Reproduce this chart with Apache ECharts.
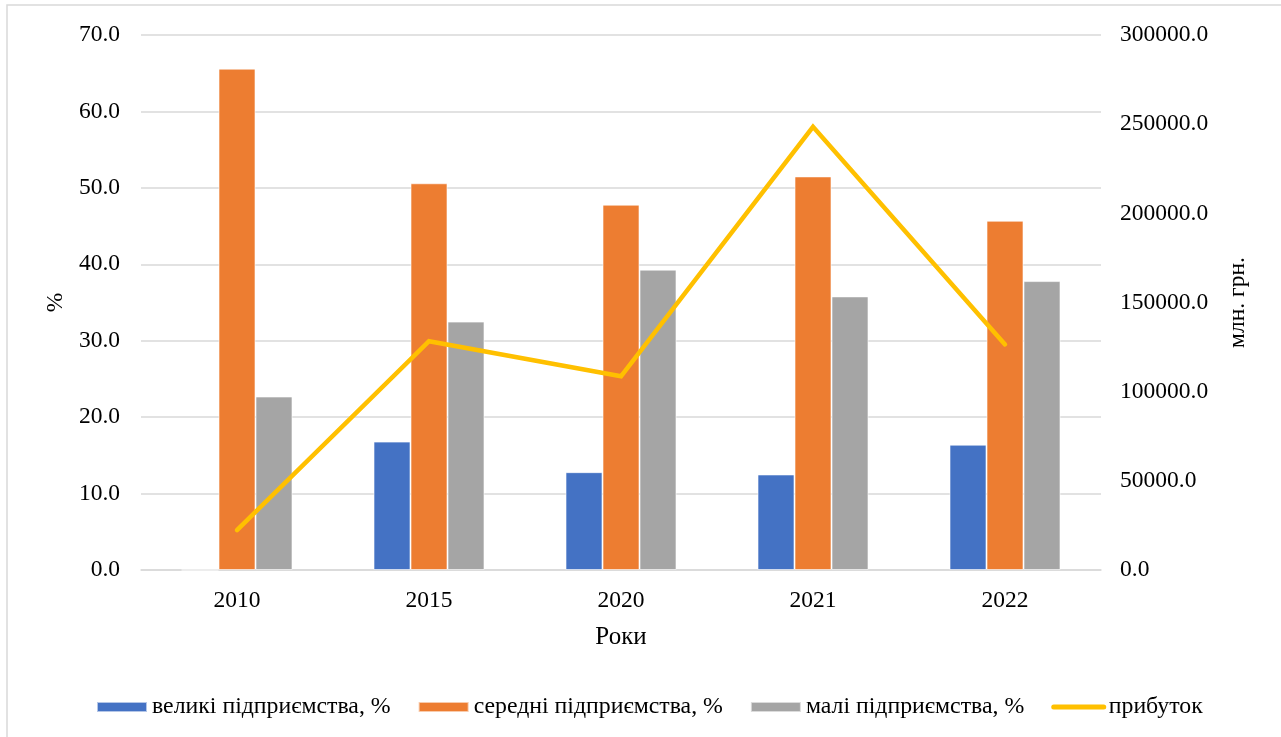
<!DOCTYPE html>
<html>
<head>
<meta charset="utf-8">
<script src="https://cdn.jsdelivr.net/npm/echarts@6/dist/echarts.min.js"></script>
<style>
html,body{margin:0;padding:0;background:#fff;}
#chart{width:1281px;height:737px;}
</style>
</head>
<body>
<div id="chart"></div>
<script>
const categories = ['2010', '2015', '2020', '2021', '2022'];
const large = [0, 16.8, 12.8, 12.5, 16.4];
const medium = [65.6, 50.6, 47.8, 51.5, 45.7];
const small = [22.7, 32.5, 39.3, 35.8, 37.8];
const profit = [22400, 128300, 108600, 248500, 126500];
const seriesNames = ['великі підприємства, %', 'середні підприємства, %', 'малі підприємства, %', 'прибуток'];

const FONT = 'Liberation Serif';
const FS = 23.5;
const chart = echarts.init(document.getElementById('chart'));
const barStyle = (c) => ({ color: c, borderColor: 'rgba(255,255,255,0.6)', borderWidth: 1 });

chart.setOption({
  backgroundColor: '#fff',
  animation: false,
  textStyle: { fontFamily: FONT, color: '#000' },
  graphic: [{
    type: 'rect',
    shape: { x: 7, y: 5, width: 1300, height: 800 },
    style: { fill: 'none', stroke: '#D9D9D9', lineWidth: 1.5 },
    silent: true
  }],
  grid: { left: 141, right: 180, top: 35, bottom: 167 },
  legend: {
    left: 91, top: 690,
    itemWidth: 50, itemHeight: 10, itemGap: 27,
    textStyle: { fontFamily: FONT, fontSize: 23.8, color: '#000' },
    data: [
      { name: seriesNames[0], icon: 'rect' },
      { name: seriesNames[1], icon: 'rect' },
      { name: seriesNames[2], icon: 'rect' },
      { name: seriesNames[3], itemStyle: { opacity: 0 }, lineStyle: { width: 5, cap: 'round', color: '#FFC000' } }
    ]
  },
  xAxis: {
    type: 'category',
    data: categories,
    name: 'Роки',
    nameLocation: 'middle',
    nameGap: 55,
    nameTextStyle: { fontFamily: FONT, fontSize: 25, color: '#000' },
    axisLine: { lineStyle: { color: '#D9D9D9', width: 1.5 } },
    axisTick: { show: false },
    axisLabel: { fontFamily: FONT, fontSize: FS, color: '#000', margin: 19 }
  },
  yAxis: [{
    type: 'value',
    min: 0, max: 70, interval: 10,
    name: '%',
    nameLocation: 'middle',
    nameGap: 72,
    nameTextStyle: { fontFamily: FONT, fontSize: FS, color: '#000' },
    axisLine: { show: false },
    axisTick: { show: false },
    splitLine: { lineStyle: { color: '#D9D9D9', width: 1.5 } },
    axisLabel: { fontFamily: FONT, fontSize: FS, color: '#000', margin: 21, formatter: v => v.toFixed(1) }
  }, {
    type: 'value',
    min: 0, max: 300000, interval: 50000,
    name: 'млн. грн.',
    nameLocation: 'middle',
    nameGap: 125,
    nameTextStyle: { fontFamily: FONT, fontSize: FS, color: '#000' },
    axisLine: { show: false },
    axisTick: { show: false },
    splitLine: { show: false },
    axisLabel: { fontFamily: FONT, fontSize: FS, color: '#000', margin: 19, formatter: v => v.toFixed(1) }
  }],
  series: [
    { name: seriesNames[0], type: 'bar', data: large, barWidth: 37, barGap: '0%', itemStyle: barStyle('#4472C4') },
    { name: seriesNames[1], type: 'bar', data: medium, barWidth: 37, barGap: '0%', itemStyle: barStyle('#ED7D31') },
    { name: seriesNames[2], type: 'bar', data: small, barWidth: 37, barGap: '0%', itemStyle: barStyle('#A5A5A5') },
    { name: seriesNames[3], type: 'line', yAxisIndex: 1, data: profit, symbol: 'none',
      itemStyle: { color: '#FFC000' },
      lineStyle: { color: '#FFC000', width: 4.5, cap: 'round', join: 'miter' } }
  ]
});
</script>
</body>
</html>
